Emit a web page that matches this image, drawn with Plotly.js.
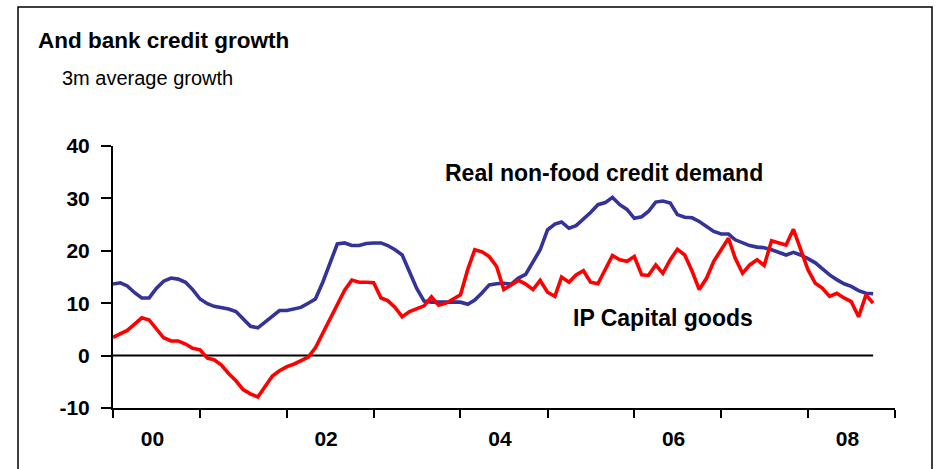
<!DOCTYPE html>
<html><head><meta charset="utf-8">
<script src="https://cdn.plot.ly/plotly-3.0.1.min.js"></script>
<style>html,body{margin:0;padding:0;background:#fff}#chart{width:936px;height:469px}</style>
</head><body><div id="chart"></div>
<script>
// Monthly data, Jan 2000 onward (3m average growth, %)
const startYear = 2000;
const creditDemand = [
  13.65, 13.9, 13.3, 12.0, 11.0, 11.0, 12.8, 14.2, 14.8, 14.6, 14.0, 12.6,
  10.8, 9.9, 9.4, 9.2, 8.9, 8.4, 7.0, 5.6, 5.3, 6.4, 7.7, 8.6,
  8.6, 8.9, 9.2, 10.0, 10.8, 14.0, 17.5, 21.3, 21.5, 21.0, 21.0, 21.4,
  21.5, 21.5, 21.0, 20.2, 19.2, 15.8, 12.8, 10.4, 10.2, 10.2, 10.2, 10.2,
  10.2, 9.8, 10.6, 12.0, 13.5, 13.7, 13.8, 13.65, 14.8, 15.5, 17.8, 20.2,
  24.0, 25.1, 25.5, 24.3, 24.8, 26.0, 27.3, 28.8, 29.2, 30.2, 28.8, 27.9,
  26.2, 26.5, 27.5, 29.3, 29.5, 29.1, 26.9, 26.4, 26.3, 25.6, 24.6, 23.7,
  23.2, 23.2, 22.1, 21.5, 21.0, 20.7, 20.6, 20.2, 19.7, 19.2, 19.7, 19.2,
  18.5, 17.7, 16.6, 15.4, 14.5, 13.7, 13.2, 12.4, 11.9, 11.8
];
const ipCapitalGoods = [
  3.5, 4.1, 4.8, 6.0, 7.2, 6.8, 5.0, 3.4, 2.8, 2.8, 2.2, 1.4,
  1.1, -0.5, -0.8, -1.8, -3.4, -4.8, -6.5, -7.3, -7.9, -5.8, -3.9, -2.9,
  -2.1, -1.6, -1.0, -0.3, 1.5, 4.3, 6.8, 9.5, 12.5, 14.4, 14.0, 14.0,
  13.9, 11.0, 10.5, 9.2, 7.4, 8.4, 9.0, 9.5, 11.2, 9.6, 10.0, 10.8,
  11.6, 16.5, 20.2, 19.8, 18.9, 17.0, 12.6, 13.5, 14.35, 13.65, 12.6, 14.35,
  12.1, 11.3, 15.0, 14.0, 15.4, 16.2, 14.0, 13.7, 16.4, 19.1, 18.3, 18.0,
  18.9, 15.4, 15.3, 17.3, 15.7, 18.3, 20.3, 19.2, 16.1, 12.6, 14.8, 18.0,
  20.2, 22.4, 18.6, 15.7, 17.3, 18.3, 17.2, 21.9, 21.5, 21.1, 24.1, 20.2,
  16.4, 13.8, 12.9, 11.3, 11.9, 11.0, 10.3, 7.4, 11.6, 10.0
];
const seriesNames = ['Real non-food credit demand', 'IP Capital goods'];
const tickYears = [2000, 2001, 2002, 2003, 2004, 2005, 2006, 2007, 2008, 2009];
const labelYears = [2000, 2002, 2004, 2006, 2008];
const yearLabels = ['00', '02', '04', '06', '08'];
const yTicks = [-10, 0, 10, 20, 30, 40];
const yTickLabels = ['-10', '0', '10', '20', '30', '40'];

const months = creditDemand.map((_, i) => {
  const y = startYear + Math.floor(i / 12);
  const m = (i % 12) + 1;
  return y + '-' + String(m).padStart(2, '0') + '-01';
});
const yearTickDates = tickYears.map(y => y + '-01-01');
const labelDates = labelYears.map(y => y + '-06-15');
const xRange = [yearTickDates[0], yearTickDates[yearTickDates.length - 1]];

const FONT = 'Liberation Sans, Arial, sans-serif';

const traces = [
  {x: months, y: creditDemand, name: seriesNames[0], type: 'scatter', mode: 'lines',
   xaxis: 'x', yaxis: 'y', line: {color: '#333399', width: 3.6}, hoverinfo: 'x+y'},
  {x: months, y: ipCapitalGoods, name: seriesNames[1], type: 'scatter', mode: 'lines',
   xaxis: 'x2', yaxis: 'y', line: {color: '#ff0000', width: 3.6}, hoverinfo: 'x+y'}
];

const layout = {
  width: 936, height: 469,
  margin: {l: 113, r: 41, t: 146, b: 61, pad: 0},
  paper_bgcolor: '#ffffff', plot_bgcolor: 'rgba(0,0,0,0)',
  showlegend: false,
  font: {family: FONT, color: '#000'},
  title: {
    text: 'And bank credit growth',
    font: {family: FONT, size: 22.5, weight: 'bold', color: '#000'},
    xref: 'container', yref: 'container', x: 38 / 936, xanchor: 'left',
    y: 1 - 40 / 469, yanchor: 'middle'
  },
  xaxis: {
    type: 'date', range: xRange, tickmode: 'array', tickvals: yearTickDates,
    showticklabels: false, ticks: 'outside', ticklen: 8, tickwidth: 2, tickcolor: '#000',
    showline: true, linewidth: 2, linecolor: '#000', showgrid: false, zeroline: false
  },
  xaxis2: {
    type: 'date', range: xRange, overlaying: 'x', anchor: 'y', side: 'bottom',
    tickmode: 'array', tickvals: labelDates, ticktext: yearLabels,
    ticks: 'outside', ticklen: 12, tickcolor: 'rgba(0,0,0,0)',
    tickfont: {family: FONT, size: 21, weight: 'bold', color: '#000'},
    showline: false, showgrid: false, zeroline: false
  },
  yaxis: {
    range: [yTicks[0], yTicks[yTicks.length - 1]], tickmode: 'array',
    tickvals: yTicks, ticktext: yTickLabels,
    ticks: 'outside', ticklen: 10, tickwidth: 2, tickcolor: '#000',
    tickfont: {family: FONT, size: 21, weight: 'bold', color: '#000'},
    showline: true, linewidth: 2, linecolor: '#000', showgrid: false, zeroline: false,
    ticklabelstandoff: 7
  },
  shapes: [
    {type: 'line', xref: 'x', yref: 'y', x0: months[0], x1: months[months.length - 1],
     y0: 0, y1: 0, line: {color: '#000', width: 2}, layer: 'below'},
    {type: 'rect', xref: 'paper', yref: 'paper',
     x0: (18 - 113) / 782, x1: (932 - 113) / 782,
     y0: (408 - 480) / 262, y1: (408 - 7) / 262,
     line: {color: '#000', width: 1.5}, fillcolor: 'rgba(0,0,0,0)', layer: 'below'}
  ],
  annotations: [
    {text: '3m average growth', xref: 'paper', yref: 'paper',
     x: (60 - 113) / 782, y: (408 - 78) / 262, xanchor: 'left', yanchor: 'middle',
     showarrow: false, font: {family: FONT, size: 20, color: '#000'}},
    {text: seriesNames[0], xref: 'paper', yref: 'paper',
     x: (603.5 - 113) / 782, y: (408 - 173) / 262, xanchor: 'center', yanchor: 'middle',
     showarrow: false, font: {family: FONT, size: 23, weight: 'bold', color: '#000'}},
    {text: seriesNames[1], xref: 'paper', yref: 'paper',
     x: (662.5 - 113) / 782, y: (408 - 318) / 262, xanchor: 'center', yanchor: 'middle',
     showarrow: false, font: {family: FONT, size: 23, weight: 'bold', color: '#000'}}
  ]
};

Plotly.newPlot('chart', traces, layout, {displayModeBar: false, staticPlot: true});
</script>
</body></html>
